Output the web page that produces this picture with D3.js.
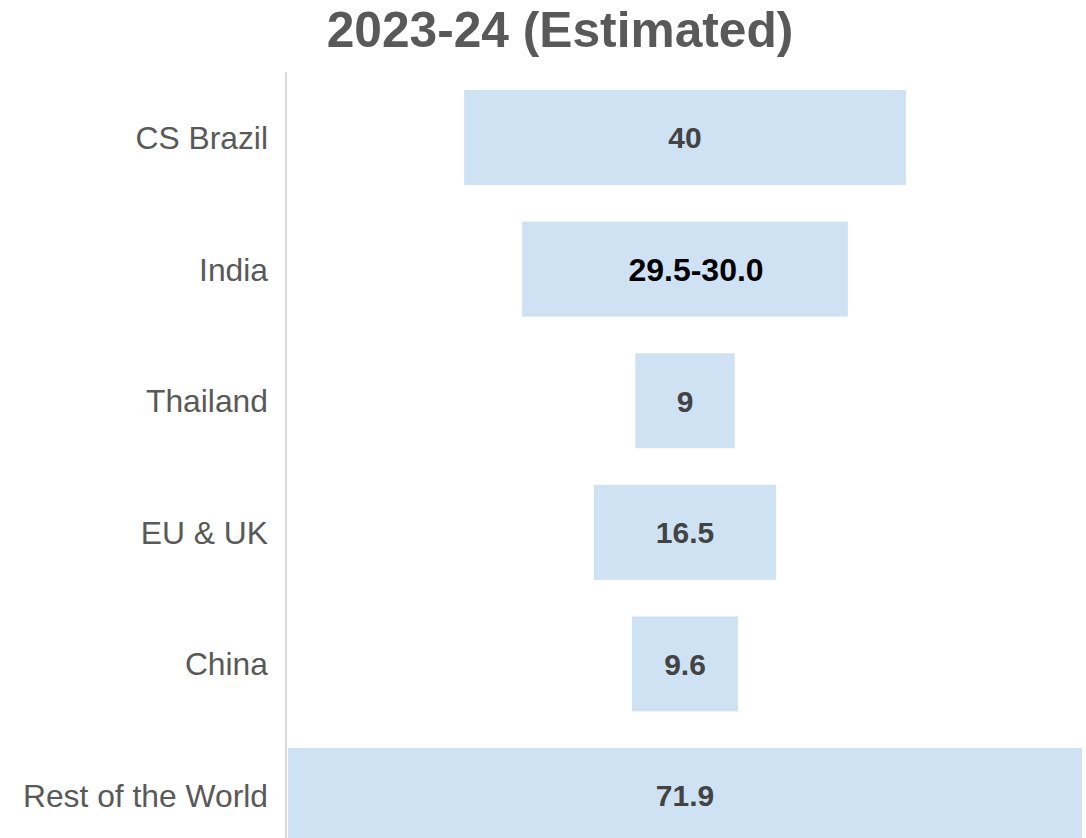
<!DOCTYPE html>
<html>
<head>
<meta charset="utf-8">
<script src="https://cdn.jsdelivr.net/npm/d3@7"></script>
<style>
  html, body { margin: 0; padding: 0; background: #fff; }
  svg { display: block; }
</style>
</head>
<body>
<svg id="chart" width="1086" height="838"></svg>
<script>
const categories = ["CS Brazil", "India", "Thailand", "EU & UK", "China", "Rest of the World"];
const values = [40, 29.5, 9, 16.5, 9.6, 71.9];
const valueLabels = ["40", "29.5-30.0", "9", "16.5", "9.6", "71.9"];
const title = "2023-24 (Estimated)";

const svg = d3.select("#chart");
const W = 1086, H = 838;
const axisX = 286;
const plotLeft = 288, plotRight = 1082;
const centerX = (plotLeft + plotRight) / 2;

const x = d3.scaleLinear().domain([0, d3.max(values)]).range([0, plotRight - plotLeft]);
const y = d3.scaleBand().domain(categories).range([71.7, 861.3]).paddingInner(0.278).paddingOuter(0.139);

svg.append("text")
  .attr("x", 560).attr("y", 47)
  .attr("text-anchor", "middle")
  .attr("font-family", "Liberation Sans, Arial, sans-serif")
  .attr("font-weight", "bold")
  .attr("font-size", 49.7)
  .attr("fill", "#595959")
  .text(title);

svg.append("g").selectAll("rect")
  .data(categories)
  .join("rect")
  .attr("x", (d, i) => centerX - x(values[i]) / 2)
  .attr("y", d => y(d))
  .attr("width", (d, i) => x(values[i]))
  .attr("height", y.bandwidth())
  .attr("fill", "#cfe2f3");

svg.append("line")
  .attr("x1", axisX).attr("x2", axisX)
  .attr("y1", 72).attr("y2", H)
  .attr("stroke", "#d9d9d9").attr("stroke-width", 2);

svg.append("g").selectAll("text")
  .data(categories)
  .join("text")
  .attr("x", 268)
  .attr("y", d => y(d) + y.bandwidth() / 2)
  .attr("dy", "0.36em")
  .attr("text-anchor", "end")
  .attr("font-family", "Liberation Sans, Arial, sans-serif")
  .attr("font-size", 31.8)
  .attr("fill", "#595959")
  .text(d => d);

svg.append("g").selectAll("text")
  .data(categories)
  .join("text")
  .attr("x", (d, i) => centerX + (i === 1 ? 11 : 0))
  .attr("y", d => y(d) + y.bandwidth() / 2)
  .attr("dy", "0.36em")
  .attr("text-anchor", "middle")
  .attr("font-family", "Liberation Sans, Arial, sans-serif")
  .attr("font-weight", "bold")
  .attr("font-size", (d, i) => i === 1 ? 32 : 30)
  .attr("fill", (d, i) => i === 1 ? "#000000" : "#434343")
  .text((d, i) => valueLabels[i]);
</script>
</body>
</html>
